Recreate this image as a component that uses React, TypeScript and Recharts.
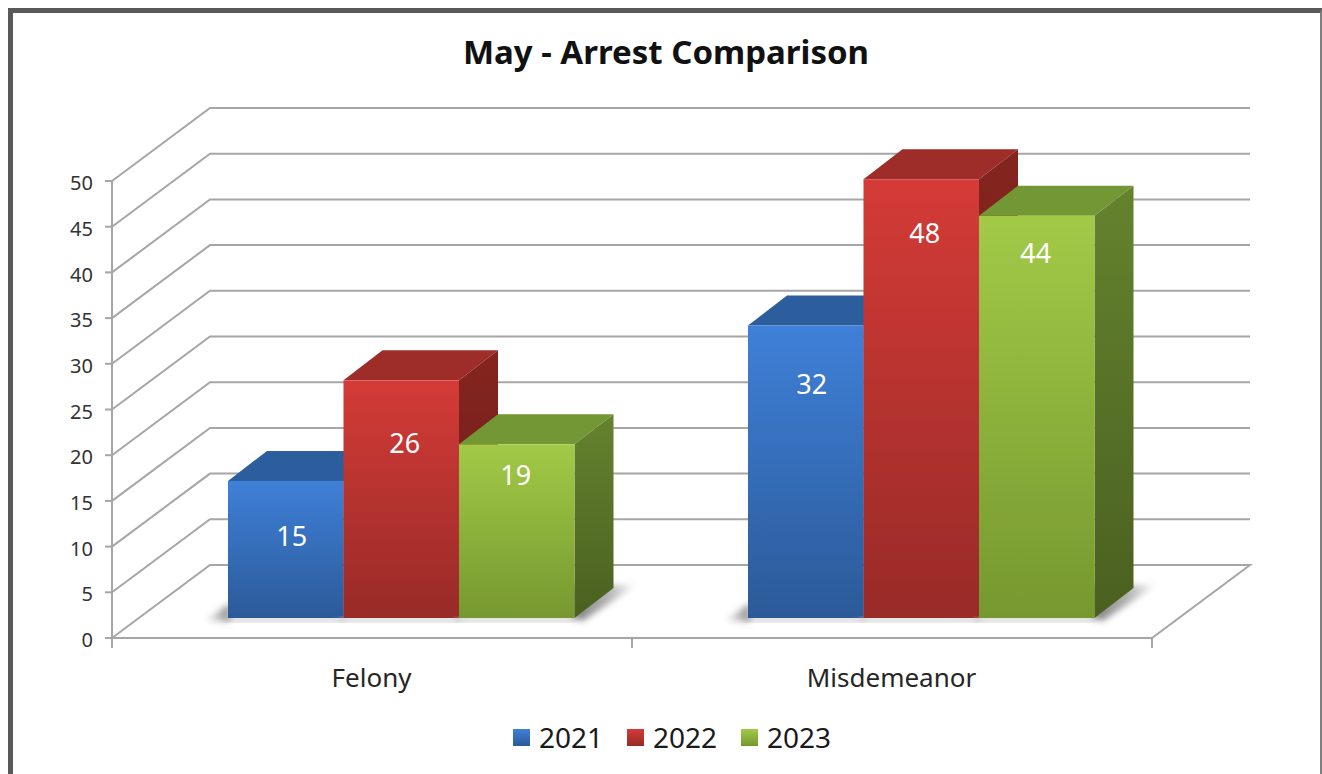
import React from 'react';
import { BarChart, Bar, XAxis, YAxis, CartesianGrid, Legend, LabelList } from 'recharts';

const categories = ['Felony', 'Misdemeanor'];
const values2021 = [15, 32];
const values2022 = [26, 48];
const values2023 = [19, 44];
const yTicks = [0, 5, 10, 15, 20, 25, 30, 35, 40, 45, 50];
const seriesNames = ['2021', '2022', '2023'];

const data = categories.map((name, i) => ({
  name,
  y2021: values2021[i],
  y2022: values2022[i],
  y2023: values2023[i],
}));

const FONT = '"Noto Sans", sans-serif';
const GRID = '#a6a6a6';
const BAND = 520;
// wall and floor depth of the fake 3D box
const WALL_DX = 98;
const WALL_DY = -73;
// bars stand part way into the floor
const BAR_DX = 29;
const BAR_DY = -20;
const DEPTH_DX = 39;
const DEPTH_DY = -30;

const palette = [
  { id: 'blue', from: '#3f80d8', to: '#2b5a98', top: '#2c5d9c', sideFrom: '#2b5a98', sideTo: '#214a7e' },
  { id: 'red', from: '#d43b37', to: '#982a27', top: '#9e2d2a', sideFrom: '#85241f', sideTo: '#6e1d1a' },
  { id: 'green', from: '#a2ca47', to: '#76982f', top: '#739735', sideFrom: '#64832e', sideTo: '#4a6020' },
];

// where Excel left the data labels, relative to the top of the front face
const labelNudge = [
  { dx: 6, dy: [55, 58] },
  { dx: 3.5, dy: [62, 53] },
  { dx: -1, dy: [30, 37] },
];

const makeBar = (series: number) => (props: any) => {
  const { x, y, width, height } = props;
  const c = palette[series];
  const l = x + BAR_DX;
  const r = l + width;
  const t = y + BAR_DY;
  const b = y + height + BAR_DY;
  return (
    <g>
      <polygon points={`${l - 4},${b} ${r + 2},${b} ${r + 1},${b + 3} ${l - 4},${b + 3}`} fill="#b4b4b4" filter="url(#floorBlur)" />
      {series === 0 && (
        <polygon points={`${l + 2},${b - 15} ${l + 2},${b + 3} ${l - 24},${b + 3}`} fill="url(#shadowLeft)" filter="url(#floorBlur)" />
      )}
      {series === 2 && (
        <polygon
          points={`${r - 2},${b + DEPTH_DY - 3} ${r + DEPTH_DX + 24},${b + DEPTH_DY - 3} ${r + 8},${b + 3} ${r - 2},${b}`}
          fill="url(#shadowRight)"
          filter="url(#floorBlur)"
        />
      )}
      <polygon
        points={`${l},${t} ${r},${t} ${r + DEPTH_DX},${t + DEPTH_DY} ${l + DEPTH_DX},${t + DEPTH_DY}`}
        fill={c.top}
      />
      <polygon
        points={`${r},${t} ${r + DEPTH_DX},${t + DEPTH_DY} ${r + DEPTH_DX},${b + DEPTH_DY} ${r},${b}`}
        fill={`url(#${c.id}Side)`}
      />
      <rect x={l} y={t} width={width} height={height} fill={`url(#${c.id}Front)`} />
    </g>
  );
};

const makeLabel = (series: number) => (props: any) => {
  const { x, y, width, value, index } = props;
  const nudge = labelNudge[series];
  return (
    <text
      x={x + BAR_DX + width / 2 + nudge.dx}
      y={y + BAR_DY + nudge.dy[index]}
      textAnchor="middle"
      dominantBaseline="central"
      fill="#ffffff"
      fontFamily={FONT}
      fontSize={27}
    >
      {value}
    </text>
  );
};

const gridLine = (props: any) => {
  const { x1, x2, y1, index } = props;
  const backY = y1 + WALL_DY;
  const isFloor = y1 > 630;
  const d = isFloor
    ? `M${x1},${y1} L${x1 + WALL_DX},${backY} L${x2 + WALL_DX},${backY} L${x2},${y1} L${x1},${y1}`
    : `M${x1},${y1} L${x1 + WALL_DX},${backY} L${x2 + WALL_DX},${backY}`;
  return <path key={`wall-${index}`} d={d} fill="none" stroke={GRID} strokeWidth={2} />;
};

const CategoryTick = (props: any) => {
  const { x, y, payload } = props;
  return (
    <g>
      <line x1={x - BAND / 2} x2={x - BAND / 2} y1={y - 8} y2={y + 2} stroke={GRID} strokeWidth={2} />
      <line x1={x + BAND / 2} x2={x + BAND / 2} y1={y - 8} y2={y + 2} stroke={GRID} strokeWidth={2} />
      <text x={x - 0.5} y={y + 41} textAnchor="middle" fill="#262626" fontFamily={FONT} fontSize={26}>
        {payload.value}
      </text>
    </g>
  );
};

const LegendRow = () => (
  <div style={{ height: 48, position: 'relative', fontFamily: FONT }}>
    {seriesNames.map((name, i) => (
      <div
        key={name}
        style={{ position: 'absolute', left: 513 + i * 114, top: -13, height: 48, display: 'flex', alignItems: 'center' }}
      >
        <span
          style={{
            width: 17,
            height: 17,
            marginRight: 9,
            background: `linear-gradient(${palette[i].from}, ${palette[i].to})`,
          }}
        />
        <span style={{ fontSize: 28, color: '#1a1a1a', lineHeight: '48px' }}>{name}</span>
      </div>
    ))}
  </div>
);

export default function App() {
  return (
    <div style={{ position: 'absolute', left: 0, top: 0, width: 1322, height: 774, background: '#fff', overflow: 'hidden' }}>
      <div
        style={{
          position: 'absolute',
          left: 8,
          top: 8,
          right: 0,
          bottom: 0,
          borderTop: '5px solid #595959',
          borderLeft: '5px solid #595959',
          borderRight: '2px solid #7f7f7f',
        }}
      />
      <BarChart
        width={1322}
        height={774}
        data={data}
        margin={{ top: 181, right: 170, bottom: 0, left: 0 }}
        barSize={115.5}
        barGap={0}
        style={{ position: 'absolute', left: 0, top: 0 }}
      >
        <defs>
          {palette.map((c) => (
            <linearGradient key={c.id} id={`${c.id}Front`} x1="0" y1="0" x2="0" y2="1">
              <stop offset="0%" stopColor={c.from} />
              <stop offset="100%" stopColor={c.to} />
            </linearGradient>
          ))}
          {palette.map((c) => (
            <linearGradient key={c.id} id={`${c.id}Side`} x1="0" y1="0" x2="0" y2="1">
              <stop offset="0%" stopColor={c.sideFrom} />
              <stop offset="100%" stopColor={c.sideTo} />
            </linearGradient>
          ))}
          <linearGradient id="shadowLeft" x1="0" y1="0" x2="1" y2="0">
            <stop offset="0%" stopColor="#ffffff" />
            <stop offset="100%" stopColor="#8a8a8a" />
          </linearGradient>
          <linearGradient id="shadowRight" x1="0" y1="0" x2="1" y2="0">
            <stop offset="0%" stopColor="#808080" />
            <stop offset="55%" stopColor="#b4b4b4" />
            <stop offset="100%" stopColor="#ffffff" />
          </linearGradient>
          <filter id="floorBlur" x="-40%" y="-40%" width="180%" height="180%">
            <feGaussianBlur stdDeviation="3" />
          </filter>
        </defs>
        <text
          x={666}
          y={64}
          textAnchor="middle"
          fontFamily={FONT}
          fontWeight={700}
          fontSize={33}
          fill="#111111"
        >
          May - Arrest Comparison
        </text>
        <CartesianGrid vertical={false} horizontal={gridLine} />
        <XAxis
          dataKey="name"
          height={88}
          axisLine={{ stroke: GRID, strokeWidth: 2 }}
          tickLine={false}
          interval={0}
          tick={<CategoryTick />}
        />
        <YAxis
          domain={[0, 50]}
          ticks={yTicks}
          width={112}
          interval={0}
          axisLine={{ stroke: GRID, strokeWidth: 2 }}
          tickLine={{ stroke: GRID, strokeWidth: 2 }}
          tickSize={7}
          tickMargin={12}
          tick={{ fill: '#333333', fontFamily: FONT, fontSize: 20, dy: 2 }}
        />
        <Legend verticalAlign="bottom" height={48} content={<LegendRow />} />
        <Bar dataKey="y2021" name="2021" shape={makeBar(0)} isAnimationActive={false}>
          <LabelList dataKey="y2021" content={makeLabel(0)} />
        </Bar>
        <Bar dataKey="y2022" name="2022" shape={makeBar(1)} isAnimationActive={false}>
          <LabelList dataKey="y2022" content={makeLabel(1)} />
        </Bar>
        <Bar dataKey="y2023" name="2023" shape={makeBar(2)} isAnimationActive={false}>
          <LabelList dataKey="y2023" content={makeLabel(2)} />
        </Bar>
      </BarChart>
    </div>
  );
}
